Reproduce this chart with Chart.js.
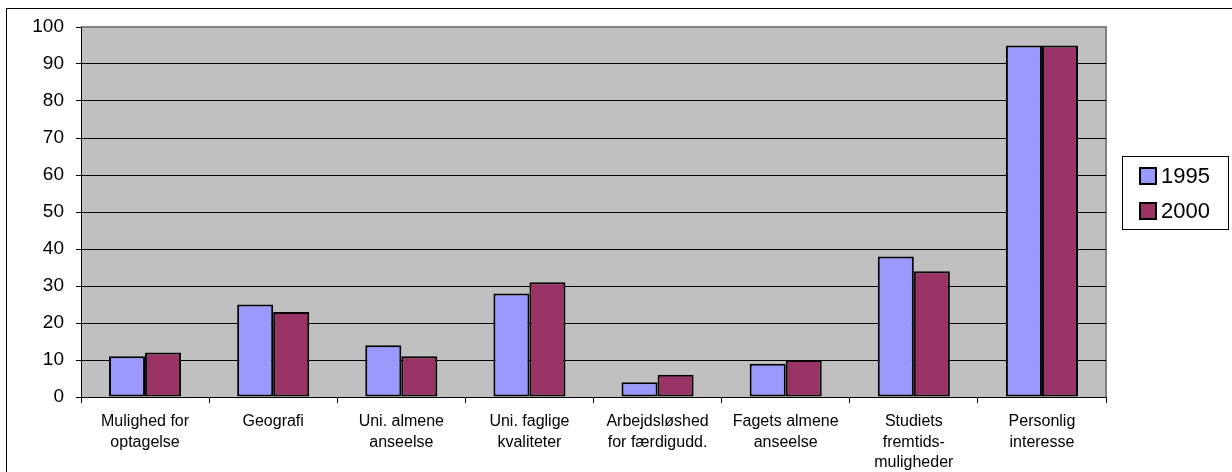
<!DOCTYPE html>
<html>
<head>
<meta charset="utf-8">
<script src="https://cdn.jsdelivr.net/npm/chart.js@4/dist/chart.umd.min.js"></script>
<style>
  html, body { margin: 0; padding: 0; background: #fff; }
  canvas { display: block; }
</style>
</head>
<body>
<canvas id="grafico" width="1232" height="472"></canvas>
<script>
// Kategorier og værdier
const kategorier = [
    ['Mulighed for', 'optagelse'],
    'Geografi',
    ['Uni. almene', 'anseelse'],
    ['Uni. faglige', 'kvaliteter'],
    ['Arbejdsløshed', 'for færdigudd.'],
    ['Fagets almene', 'anseelse'],
    ['Studiets', 'fremtids-', 'muligheder'],
    ['Personlig', 'interesse']
];
const aar = ['1995', '2000'];
const vaerdier1995 = [11, 25, 14, 28, 4, 9, 38, 95];
const vaerdier2000 = [12, 23, 11, 31, 6, 10, 34, 95];
const yTicks = [0, 10, 20, 30, 40, 50, 60, 70, 80, 90, 100];

const farver = ['#9999FF', '#993366'];
const skrift = "'Liberation Sans', Arial, sans-serif";

// Baggrund, ramme og grå plotområde
const baggrund = {
    id: 'baggrund',
    beforeDraw(chart) {
        const ctx = chart.ctx;
        const a = chart.chartArea;
        ctx.save();
        ctx.fillStyle = '#fff';
        ctx.fillRect(0, 0, chart.width, chart.height);
        ctx.strokeStyle = '#000';
        ctx.lineWidth = 1;
        ctx.strokeRect(6.5, 8.5, chart.width + 20, chart.height + 20);
        ctx.fillStyle = '#C0C0C0';
        ctx.fillRect(a.left, a.top, a.right - a.left, a.bottom - a.top);
        ctx.strokeStyle = '#808080';
        ctx.lineWidth = 2;
        ctx.beginPath();
        ctx.moveTo(a.left, a.top);
        ctx.lineTo(a.right, a.top);
        ctx.lineTo(a.right, a.bottom);
        ctx.stroke();
        ctx.restore();
    }
};

// Forklaring med ramme
const forklaring = {
    id: 'forklaring',
    afterDraw(chart) {
        const ctx = chart.ctx;
        ctx.save();
        ctx.fillStyle = '#fff';
        ctx.fillRect(1122, 156, 106, 73);
        ctx.strokeStyle = '#000';
        ctx.lineWidth = 1;
        ctx.strokeRect(1122.5, 156.5, 106, 73);
        ctx.font = '22px ' + skrift;
        ctx.textBaseline = 'middle';
        chart.data.datasets.forEach(function(ds, i) {
            const y = 168 + i * 35;
            ctx.fillStyle = ds.backgroundColor;
            ctx.fillRect(1140, y, 16, 16);
            ctx.strokeStyle = '#000';
            ctx.lineWidth = 2;
            ctx.strokeRect(1140, y, 16, 16);
            ctx.fillStyle = '#000';
            ctx.fillText(ds.label, 1161, y + 9);
        });
        ctx.restore();
    }
};

new Chart(document.getElementById('grafico').getContext('2d'), {
    type: 'bar',
    data: {
        labels: kategorier,
        datasets: [
            { label: aar[0], data: vaerdier1995, backgroundColor: farver[0] },
            { label: aar[1], data: vaerdier2000, backgroundColor: farver[1] }
        ].map(function(ds) {
            return Object.assign(ds, {
                borderColor: '#000',
                borderWidth: 2,
                borderSkipped: false,
                categoryPercentage: 0.5625,
                barPercentage: 1
            });
        })
    },
    options: {
        responsive: false,
        animation: false,
        layout: { padding: { left: 0, top: 27, right: 126, bottom: 0 } },
        plugins: {
            legend: { display: false },
            tooltip: { enabled: false }
        },
        scales: {
            x: {
                afterFit(scale) { scale.height = 75; },
                grid: {
                    offset: true,
                    drawOnChartArea: false,
                    color: '#000',
                    tickLength: 6
                },
                border: { color: '#000', width: 1 },
                ticks: {
                    color: '#000',
                    maxRotation: 0,
                    autoSkip: false,
                    padding: 8,
                    font: { family: skrift, size: 16, lineHeight: 1.3 }
                }
            },
            y: {
                min: 0,
                max: 100,
                afterFit(scale) { scale.width = 81; },
                afterBuildTicks(scale) {
                    scale.ticks = yTicks.map(function(v) { return { value: v }; });
                },
                grid: {
                    color(c) { return c.tick && c.tick.value === 100 ? 'rgba(0,0,0,0)' : '#000'; },
                    tickColor: '#000',
                    tickLength: 5
                },
                border: { color: '#000', width: 1 },
                ticks: {
                    color: '#000',
                    padding: 12,
                    font: { family: skrift, size: 19 }
                }
            }
        }
    },
    plugins: [baggrund, forklaring]
});
</script>
</body>
</html>
